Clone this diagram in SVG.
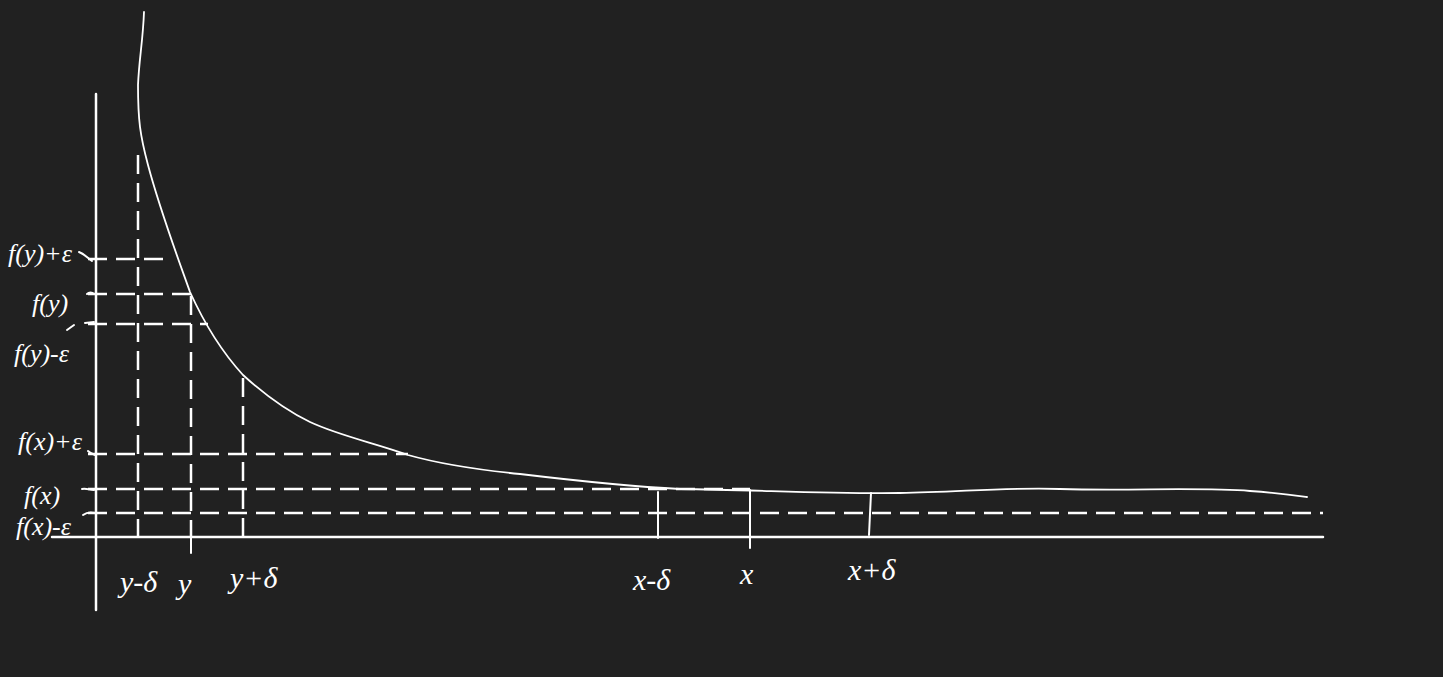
<svg xmlns="http://www.w3.org/2000/svg" width="1443" height="677" viewBox="0 0 1443 677">
<style>
.bg{fill:#212121}
.ax{stroke:#ffffff;stroke-width:2.5;fill:none;stroke-linecap:round}
.cv{stroke:#ffffff;stroke-width:1.8;fill:none;stroke-linecap:round}
.ds{stroke:#ffffff;stroke-width:2.5;fill:none;stroke-dasharray:19,9}
.tk{stroke:#ffffff;stroke-width:2;fill:none;stroke-linecap:round}
.lb{fill:#ffffff;font-family:"Liberation Serif",serif;font-style:italic;font-size:26px}
.bl{fill:#ffffff;font-family:"Liberation Serif",serif;font-style:italic;font-size:30px}
</style>
<rect class="bg" x="0" y="0" width="1443" height="677"/>
<g id="axes">
<path class="ax" d="M96,94 L96,610"/>
<path class="ax" d="M52,537 L1323,537"/>
</g>
<g id="curve">
<path class="cv" d="M144,12 C143,40 139,60 138,85 C138,120 140,135 148,165 C160,210 175,250 190,292 C205,325 222,352 243,375 C265,395 285,410 310,422 C340,436 375,443 408,455 C440,464 470,469 520,474 C570,480 620,486 680,489 C760,490 830,494 900,493 C960,492 1010,487 1060,489 C1130,491 1200,487 1250,491 C1280,493 1300,496 1307,497"/>
</g>
<g id="connectors">
<path class="ds" d="M88,259 L170,259"/>
<path class="ds" d="M88,294 L192,294"/>
<path class="ds" d="M88,324 L208,324"/>
<path class="ds" d="M88,454 L408,454"/>
<path class="ds" d="M88,489 L750,489"/>
<path class="ds" d="M88,513 L1323,513"/>
<path class="ds" d="M138,155 L138,537"/>
<path class="ds" d="M191,296 L191,537"/>
<path class="ds" d="M243,378 L243,537"/>
<path class="tk" d="M191,537 L191,553"/>
<path class="tk" d="M658,492 L658,538"/>
<path class="tk" d="M750,490 L750,548"/>
<path class="tk" d="M871,493 L869,535"/>
<path class="tk" d="M79,252 C84,254 88,258 92,261"/>
<path class="tk" d="M87,294 C89,292 92,292 94,294"/>
<path class="tk" d="M85,323 L94,322"/>
<path class="tk" d="M67,330 L74,325"/>
<path class="tk" d="M88,451 C90,453 92,454 95,455"/>
<path class="tk" d="M82,489 C86,488 90,490 94,490"/>
<path class="tk" d="M83,515 C87,512 91,512 95,513"/>
</g>
<g id="labels">
<text class="lb" x="8" y="262">f(y)+ε</text>
<text class="lb" x="32" y="312" font-size="32">f(y)</text>
<text class="lb" x="14" y="362">f(y)-ε</text>
<text class="lb" x="18" y="450">f(x)+ε</text>
<text class="lb" x="24" y="504" font-size="32">f(x)</text>
<text class="lb" x="16" y="535">f(x)-ε</text>
<text class="bl" x="120" y="592">y-δ</text>
<text class="bl" x="178" y="594">y</text>
<text class="bl" x="230" y="588">y+δ</text>
<text class="bl" x="633" y="590">x-δ</text>
<text class="bl" x="740" y="584">x</text>
<text class="bl" x="848" y="580">x+δ</text>
</g>
</svg>
